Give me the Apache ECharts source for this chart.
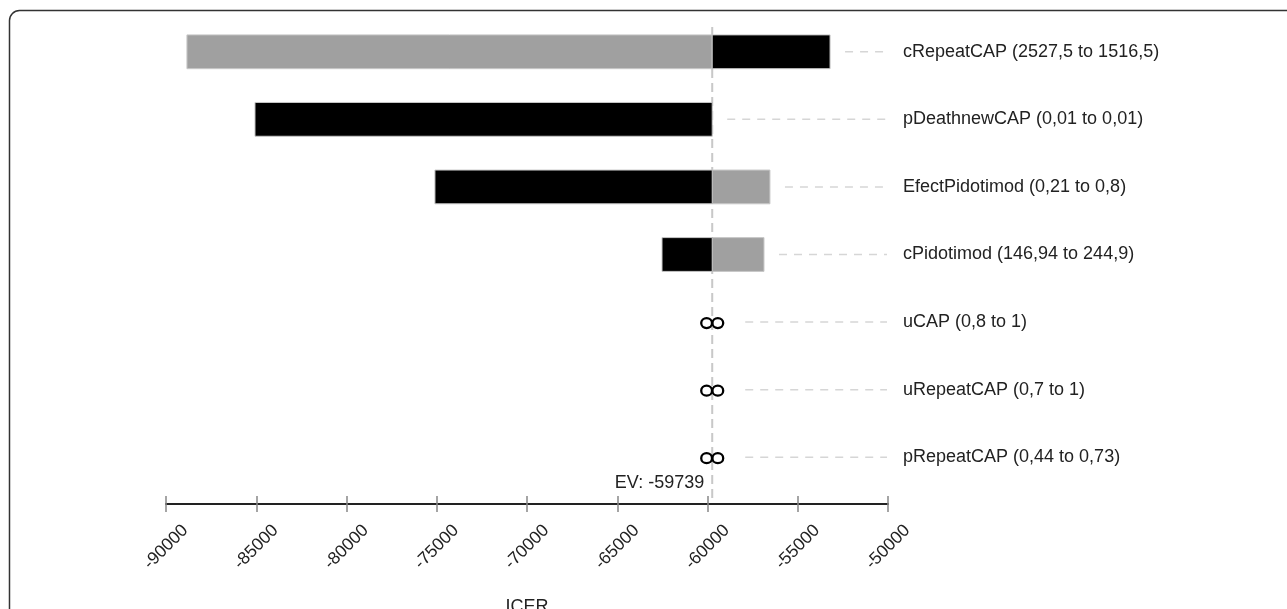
<!DOCTYPE html>
<html><head><meta charset="utf-8">
<script src="https://cdn.jsdelivr.net/npm/echarts@6/dist/echarts.min.js"></script>
<style>html,body{margin:0;padding:0;background:#fff}#c{width:1287px;height:609px}</style>
</head><body><div id="c"></div>
<script>
// ---- data ----
const categories = [
  'cRepeatCAP (2527,5 to 1516,5)',
  'pDeathnewCAP (0,01 to 0,01)',
  'EfectPidotimod (0,21 to 0,8)',
  'cPidotimod (146,94 to 244,9)',
  'uCAP (0,8 to 1)',
  'uRepeatCAP (0,7 to 1)',
  'pRepeatCAP (0,44 to 0,73)'
];
// ICER at first listed value (black bars)
const firstValueICER = [-53210, -85070, -75100, -62520, null, null, null];
// ICER at second listed value (grey bars)
const secondValueICER = [-88840, -59739, -56540, -56870, null, null, null];
// rows whose ICER is infinite (drawn as ∞)
const infiniteICER = [false, false, false, false, true, true, true];
const expectedValue = -59739;
const axisMin = -90000, axisMax = -50000, axisStep = 5000;
const axisTitle = 'ICER';

const FONT = 'Liberation Sans, Arial, sans-serif';
const chart = echarts.init(document.getElementById('c'), null, {renderer: 'canvas'});

const rowData = categories.map((c, i) => [i, firstValueICER[i], secondValueICER[i], infiniteICER[i] ? 1 : 0]);

function renderRow(params, api) {
  const i = api.value(0);
  const ev = api.coord([expectedValue, i]);
  const evX = ev[0], y = ev[1];
  const band = api.size([0, 1])[1];
  const h = band * 0.5;
  const children = [];
  let right = evX;
  const bars = [[api.value(2), '#a0a0a0'], [api.value(1), '#000000']];
  bars.forEach(([v, col]) => {
    if (v == null || isNaN(v) || v === expectedValue) return;
    const x = api.coord([v, i])[0];
    children.push({type: 'rect', shape: {x: Math.min(x, evX), y: y - h / 2, width: Math.abs(x - evX), height: h},
      style: {fill: col, stroke: '#c8c8c8', lineWidth: 1}});
    right = Math.max(right, x);
  });
  if (api.value(3) === 1) {
    [-5.6, 5.6].forEach(dx => children.push({type: 'ellipse', shape: {cx: evX + dx, cy: y + 1, rx: 5.4, ry: 5},
      style: {fill: 'none', stroke: '#000', lineWidth: 2.3}}));
    right = evX + 18;
  }
  const endX = api.coord([axisMax, i])[0];
  children.push({type: 'line', shape: {x1: right + 15, y1: y, x2: endX - 1, y2: y},
    style: {stroke: '#d6d6d6', lineWidth: 1.5, lineDash: [8, 7]}});
  children.push({type: 'text', style: {text: categories[i], x: endX + 15, y: y, align: 'left', verticalAlign: 'middle',
    font: '18px ' + FONT, fill: '#222'}});
  return {type: 'group', children};
}

function renderEV(params, api) {
  const cs = params.coordSys;
  const x = api.coord([expectedValue, 0])[0];
  const axisY = cs.y + cs.height + 13;
  return {type: 'group', children: [
    {type: 'line', shape: {x1: x, y1: cs.y + 9, x2: x, y2: axisY - 3},
      style: {stroke: '#c8c8c8', lineWidth: 2, lineDash: [9, 5]}},
    {type: 'text', style: {text: 'EV: ' + expectedValue, x: x - 8, y: axisY - 21, align: 'right', verticalAlign: 'middle',
      font: '18px ' + FONT, fill: '#222'}}
  ]};
}

const xBase = {type: 'value', min: axisMin, max: axisMax, interval: axisStep, position: 'bottom', offset: 13,
  splitLine: {show: false}};

chart.setOption({
  animation: false,
  backgroundColor: '#fff',
  grid: {left: 166, right: 399, top: 18, bottom: 118, containLabel: false, outerBoundsMode: 'none'},
  xAxis: [
    Object.assign({}, xBase, {
      axisLine: {show: true, lineStyle: {color: '#222', width: 2}},
      axisTick: {show: true, inside: false, length: 8, lineStyle: {color: '#888', width: 1.5}},
      axisLabel: {rotate: 45, align: 'center', verticalAlign: 'middle', margin: 43, color: '#222',
        fontSize: 17.5, fontFamily: FONT, formatter: v => String(v)},
      name: axisTitle, nameLocation: 'middle', nameGap: 94,
      nameTextStyle: {fontSize: 18, fontFamily: FONT, color: '#222', verticalAlign: 'top'}
    }),
    Object.assign({}, xBase, {
      axisLine: {show: false},
      axisTick: {show: true, inside: true, length: 8, lineStyle: {color: '#888', width: 1.5}},
      axisLabel: {show: false}
    })
  ],
  yAxis: {type: 'category', data: categories, inverse: true, show: false},
  graphic: [{type: 'rect', shape: {x: 9.5, y: 10.5, width: 1400, height: 700, r: 10},
    style: {fill: 'none', stroke: '#333', lineWidth: 1.5}, silent: true}],
  series: [
    {type: 'custom', xAxisIndex: 0, data: [[0]], renderItem: renderEV, silent: true, z: 1},
    {type: 'custom', xAxisIndex: 0, data: rowData, renderItem: renderRow, silent: true, z: 2,
      encode: {y: 0, x: 1}}
  ]
});
</script></body></html>
